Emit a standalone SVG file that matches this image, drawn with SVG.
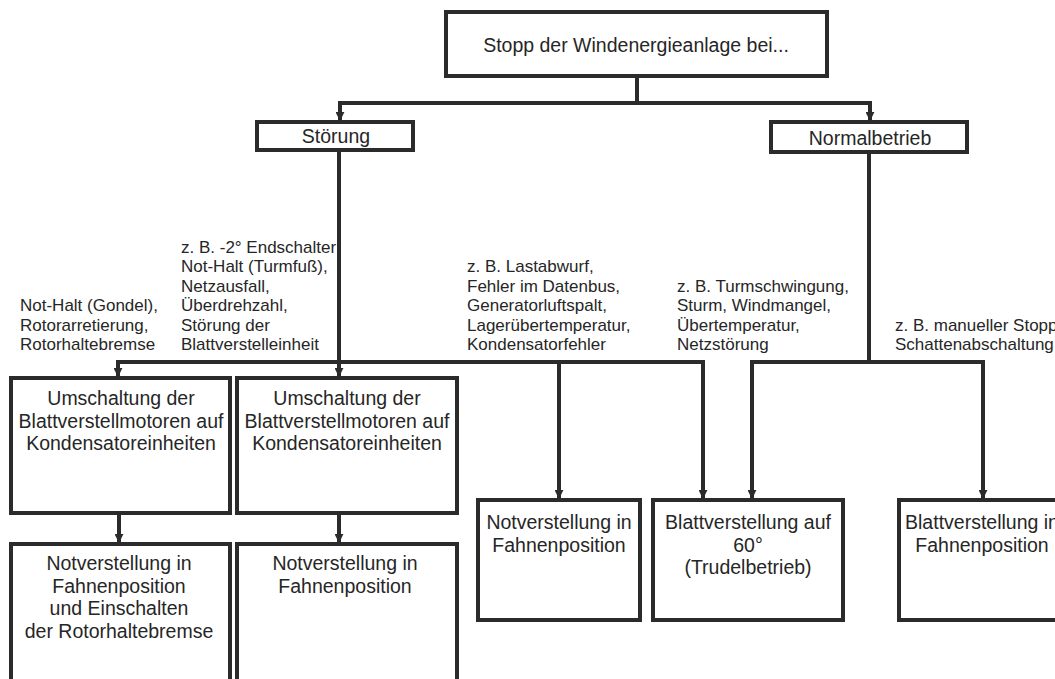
<svg xmlns="http://www.w3.org/2000/svg" width="1055" height="679" viewBox="0 0 1055 679">
<defs>
<marker id="arr" viewBox="0 0 10 10" refX="9" refY="5" markerUnits="userSpaceOnUse" markerWidth="9" markerHeight="9" orient="auto">
<path d="M0,0 L10,5 L0,10 z" fill="#2b2b2b"/>
</marker>
<style>
.box{fill:#fff;stroke:#2b2b2b;stroke-width:4}
.t{font-family:"Liberation Sans",Arial,sans-serif;font-size:19.5px;fill:#262626;text-anchor:middle}
.l{font-family:"Liberation Sans",Arial,sans-serif;font-size:17px;fill:#262626}
.c{fill:none;stroke:#2b2b2b;stroke-width:4}
</style>
</defs>
<rect width="1055" height="679" fill="#fff"/>
<g id="connectors">
<path class="c" d="M637,78 V103"/>
<path class="c" d="M338,103 H872"/>
<path class="c" d="M340,103 V120" marker-end="url(#arr)"/>
<path class="c" d="M870,103 V120" marker-end="url(#arr)"/>
<path class="c" d="M339,152 V362"/>
<path class="c" d="M116,362 H705"/>
<path class="c" d="M118,362 V376" marker-end="url(#arr)"/>
<path class="c" d="M339,362 V376" marker-end="url(#arr)"/>
<path class="c" d="M559,362 V498" marker-end="url(#arr)"/>
<path class="c" d="M703,362 V498" marker-end="url(#arr)"/>
<path class="c" d="M869,154 V362"/>
<path class="c" d="M750,362 H985"/>
<path class="c" d="M752,362 V498" marker-end="url(#arr)"/>
<path class="c" d="M983,362 V498" marker-end="url(#arr)"/>
<path class="c" d="M119,515 V542" marker-end="url(#arr)"/>
<path class="c" d="M339,515 V542" marker-end="url(#arr)"/>
</g>
<g id="n-top">
<rect class="box" x="446" y="12" width="381" height="64"/>
<text class="t" x="636" y="52">Stopp der Windenergieanlage bei...</text>
</g>
<g id="n-stoerung">
<rect class="box" x="257" y="122" width="156" height="28"/>
<text class="t" x="336" y="143">Störung</text>
</g>
<g id="n-normal">
<rect class="box" x="771" y="122" width="196" height="30"/>
<text class="t" x="870" y="145">Normalbetrieb</text>
</g>
<g id="labels">
<text class="l" x="20" y="311">Not-Halt (Gondel),</text>
<text class="l" x="20" y="330.5">Rotorarretierung,</text>
<text class="l" x="20" y="350">Rotorhaltebremse</text>
<text class="l" x="181" y="252.5">z. B. -2° Endschalter</text>
<text class="l" x="181" y="272">Not-Halt (Turmfuß),</text>
<text class="l" x="181" y="291.5">Netzausfall,</text>
<text class="l" x="181" y="311">Überdrehzahl,</text>
<text class="l" x="181" y="330.5">Störung der</text>
<text class="l" x="181" y="350">Blattverstelleinheit</text>
<text class="l" x="467" y="272">z. B. Lastabwurf,</text>
<text class="l" x="467" y="291.5">Fehler im Datenbus,</text>
<text class="l" x="467" y="311">Generatorluftspalt,</text>
<text class="l" x="467" y="330.5">Lagerübertemperatur,</text>
<text class="l" x="467" y="350">Kondensatorfehler</text>
<text class="l" x="677" y="291.5">z. B. Turmschwingung,</text>
<text class="l" x="677" y="311">Sturm, Windmangel,</text>
<text class="l" x="677" y="330.5">Übertemperatur,</text>
<text class="l" x="677" y="350">Netzstörung</text>
<text class="l" x="895" y="330.5">z. B. manueller Stopp</text>
<text class="l" x="895" y="350">Schattenabschaltung</text>
</g>
<g id="n-umschalt1">
<rect class="box" x="11" y="378" width="219" height="135"/>
<text class="t" x="121" y="405">Umschaltung der</text>
<text class="t" x="121" y="427.5">Blattverstellmotoren auf</text>
<text class="t" x="121" y="450">Kondensatoreinheiten</text>
</g>
<g id="n-umschalt2">
<rect class="box" x="237" y="378" width="220" height="135"/>
<text class="t" x="347" y="405">Umschaltung der</text>
<text class="t" x="347" y="427.5">Blattverstellmotoren auf</text>
<text class="t" x="347" y="450">Kondensatoreinheiten</text>
</g>
<g id="n-not1">
<rect class="box" x="11" y="544" width="219" height="145"/>
<text class="t" x="119" y="570">Notverstellung in</text>
<text class="t" x="119" y="592.5">Fahnenposition</text>
<text class="t" x="119" y="615">und Einschalten</text>
<text class="t" x="119" y="637.5">der Rotorhaltebremse</text>
</g>
<g id="n-not2">
<rect class="box" x="237" y="544" width="220" height="145"/>
<text class="t" x="345" y="570">Notverstellung in</text>
<text class="t" x="345" y="592.5">Fahnenposition</text>
</g>
<g id="n-not3">
<rect class="box" x="478" y="500" width="162" height="120"/>
<text class="t" x="559" y="529">Notverstellung in</text>
<text class="t" x="559" y="551.5">Fahnenposition</text>
</g>
<g id="n-trudel">
<rect class="box" x="653" y="500" width="190" height="120"/>
<text class="t" x="748" y="529">Blattverstellung auf</text>
<text class="t" x="748" y="551.5">60°</text>
<text class="t" x="748" y="574">(Trudelbetrieb)</text>
</g>
<g id="n-fahne">
<rect class="box" x="899" y="500" width="170" height="120"/>
<text class="t" x="982" y="529">Blattverstellung in</text>
<text class="t" x="982" y="551.5">Fahnenposition</text>
</g>
</svg>
